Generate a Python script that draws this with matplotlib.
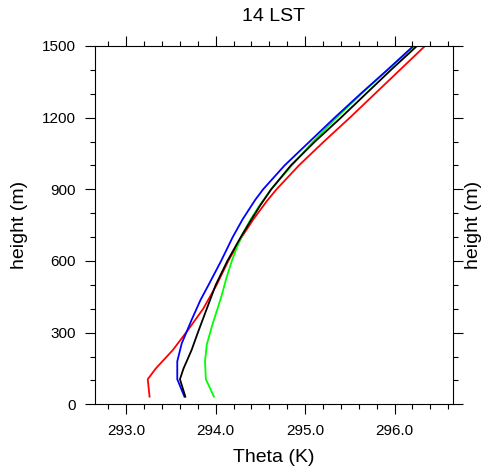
import matplotlib
matplotlib.use("Agg")
import matplotlib.pyplot as plt
from matplotlib.ticker import MultipleLocator, FormatStrFormatter

plt.rcParams['font.family'] = ['Liberation Sans', 'DejaVu Sans']

# potential temperature profiles (K) at height (m)
red_z = [32, 105, 150, 227, 311, 400, 500, 600, 660, 700, 774, 850, 900, 1000, 1100, 1200, 1300, 1400, 1500]
red_t = [293.26, 293.24, 293.33, 293.52, 293.69, 293.86, 294.01, 294.14, 294.23, 294.29, 294.42,
         294.57, 294.68, 294.93, 295.21, 295.50, 295.78, 296.06, 296.34]

green_z = [32, 105, 178, 250, 330, 400, 460, 530, 600, 660, 720, 774, 827, 900, 1000, 1100, 1200,
           1300, 1400, 1500]
green_t = [293.98, 293.89, 293.88, 293.90, 293.96, 294.02, 294.07, 294.12, 294.18, 294.24, 294.31,
           294.39, 294.48, 294.62, 294.85, 295.09, 295.35, 295.63, 295.92, 296.22]

blue_z = [32, 105, 180, 255, 353, 437, 500, 600, 700, 774, 855, 900, 1000, 1100, 1200, 1300, 1400, 1500]
blue_t = [293.65, 293.57, 293.57, 293.62, 293.73, 293.83, 293.92, 294.06, 294.19, 294.30, 294.44,
          294.53, 294.77, 295.05, 295.33, 295.62, 295.92, 296.21]

black_z = [32, 105, 150, 227, 300, 400, 500, 600, 700, 774, 834, 900, 1000, 1100, 1200, 1300, 1400, 1500]
black_t = [293.66, 293.60, 293.64, 293.73, 293.80, 293.90, 294.00, 294.13, 294.28, 294.40, 294.50,
           294.62, 294.84, 295.11, 295.40, 295.68, 295.96, 296.25]

fig = plt.figure(figsize=(4.82, 4.70), dpi=100)
ax = fig.add_axes([95 / 482, 1 - 404.3 / 470, 357.7 / 482, 358.3 / 470])

ax.plot(red_t, red_z, color="red", lw=1.3)
ax.plot(green_t, green_z, color="#00ff00", lw=1.3)
ax.plot(blue_t, blue_z, color="blue", lw=1.3)
ax.plot(black_t, black_z, color="black", lw=1.3)

ax.set_xlim(292.65, 296.65)
ax.set_ylim(0, 1500)
ax.xaxis.set_major_locator(MultipleLocator(1.0))
ax.xaxis.set_minor_locator(MultipleLocator(0.2))
ax.xaxis.set_major_formatter(FormatStrFormatter("%.1f"))
ax.yaxis.set_major_locator(MultipleLocator(300))
ax.yaxis.set_minor_locator(MultipleLocator(100))

ax.tick_params(which="both", direction="out", top=True, right=True, width=0.8)
ax.tick_params(which="major", length=7, pad=7, labelsize=11)
ax.tick_params(which="minor", length=3.6)
for s in ax.spines.values():
    s.set_linewidth(0.8)

ax.set_title("14 LST", fontsize=14, pad=18)
ax.set_xlabel("Theta (K)", fontsize=14, va="center")
ax.xaxis.set_label_coords(0.5, (404.3 - 458) / 358.3)
ax.set_ylabel("height (m)", fontsize=14, va="center")
ax.yaxis.set_label_coords((20 - 95) / 357.7, 0.5)
fig.text(473 / 482, 1 - 225 / 470, "height (m)", fontsize=14, rotation=90, ha="center", va="center")

fig.savefig("out.png", dpi=100)
